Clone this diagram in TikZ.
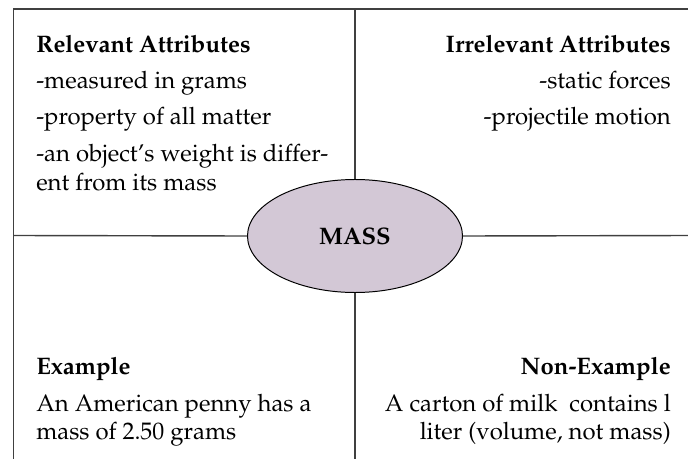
\documentclass[tikz,border=0pt]{standalone}
\usepackage[T1]{fontenc}
\usepackage{mathpazo}
\usepackage{xcolor}
\usepackage{tikz}
\usetikzlibrary{shapes.geometric, positioning}
\definecolor{FrameGray}{RGB}{64,64,64}
\definecolor{MassFill}{RGB}{211,200,214}
\newcommand{\quadfont}[1]{\fontsize{17}{#1}\selectfont\lineskiplimit=-10pt\relax}
\tikzset{
  % grid lines
  frame/.style={line width=1pt,FrameGray},
  % central concept
  concept/.style={ellipse,draw=black,line width=0.7pt,fill=MassFill,minimum width=5.375cm,minimum height=2.825cm,inner sep=0pt,font=\fontsize{17}{20}\selectfont\bfseries},
  % quadrant texts (argument = line spacing)
  quad/.style={inner sep=0pt,font=\quadfont{#1}}
}

\begin{document}
\begin{tikzpicture}
    \useasboundingbox (0,0) rectangle (17.2,11.45);
    \node[concept] (mass) at (8.875,5.55) {MASS};
    % frame ends
    \coordinate (tl) at (0.333,11.225);
    \coordinate (tr) at (17.3,11.225);
    \coordinate (bl) at (0.333,-0.1);
    \coordinate (tm) at (8.875,11.225);
    \coordinate (bm) at (8.875,-0.1);
    \coordinate (ml) at (0.333,5.5625);
    \coordinate (mr) at (17.3,5.5625);
    \draw[frame] (tr) -- (tl) -- (bl);
    \draw[frame] (tm) -- (mass.north);
    \draw[frame] (mass.south) -- (bm);
    \draw[frame] (ml) -- (mass.west);
    \draw[frame] (mass.east) -- (mr);
    % quadrants
    \node[quad=21.3pt,align=left,anchor=north west] (rel) at (0.9,10.583)
      {\textbf{Relevant Attributes}\\[4.5pt]-measured in grams\\[4.5pt]-property of all matter\\[4.5pt]-an object's weight is differ-\\ent from its mass};
    \node[quad=21.3pt,align=right,anchor=north east] (irr) at (16.775,10.583)
      {\textbf{Irrelevant Attributes}\\[4.5pt]-static forces\\[4.5pt]-projectile motion};
    \node[quad=19.9pt,align=left,anchor=north west] (ex) at (0.9,2.533)
      {\textbf{Example}\\[6.4pt]An American penny has a\\mass of 2.50 grams};
    \node[quad=19.9pt,align=right,anchor=north east] (nonex) at (16.775,2.533)
      {\textbf{Non-Example}\\[6.4pt]A carton of milk\ \ contains l\\liter (volume, not mass)};
\end{tikzpicture}
\end{document}
